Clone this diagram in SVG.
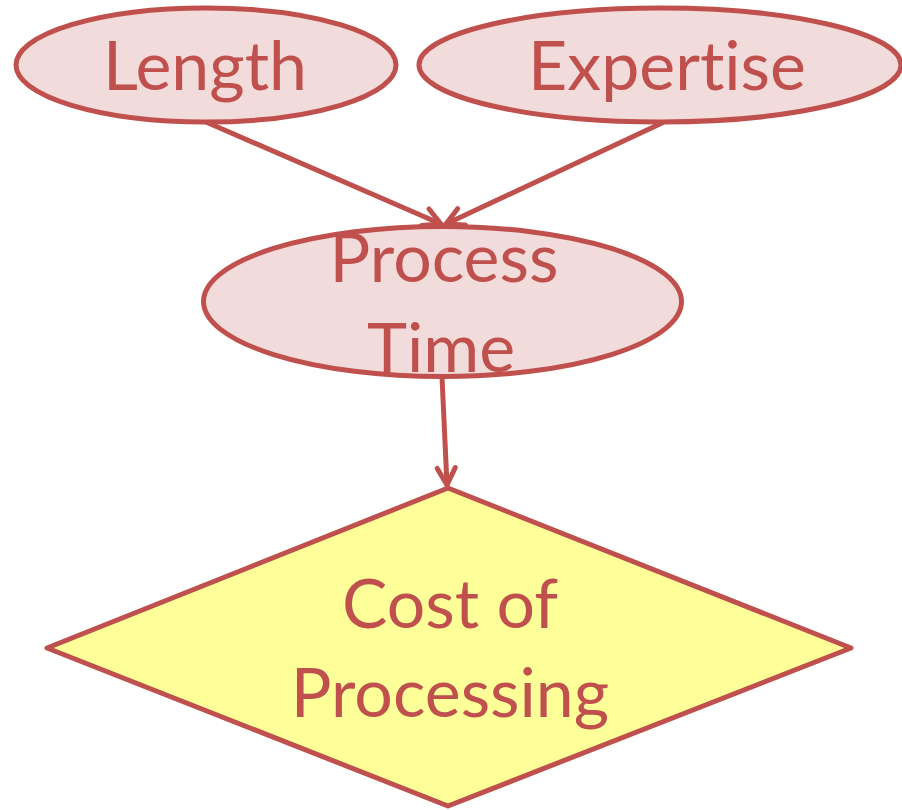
<svg xmlns="http://www.w3.org/2000/svg" width="902" height="810" viewBox="0 0 902 810">
  <style>
    .node { stroke: #C0504D; stroke-width: 5; }
    .oval { fill: #F2DCDB; }
    .decision { fill: #FFFF99; stroke-linejoin: round; }
    .label { font-family: Lato, "Open Sans", "Liberation Sans", sans-serif; font-size: 68px; fill: #C0504D; text-anchor: middle; font-variant-ligatures: none; font-feature-settings: "liga" 0; }
    .edge { stroke: #C0504D; stroke-width: 5; fill: none; stroke-linecap: round; }
  </style>
  <defs>
    <marker id="arrow" viewBox="0 0 24 24" refX="21" refY="12" markerWidth="24" markerHeight="24" markerUnits="userSpaceOnUse" orient="auto">
      <path d="M4,3 L21,12 L4,21" fill="none" stroke="#C0504D" stroke-width="5" stroke-linecap="round" stroke-linejoin="round"/>
    </marker>
  </defs>

  <g id="edges">
    <line class="edge" x1="206" y1="122" x2="441" y2="224" marker-end="url(#arrow)"/>
    <line class="edge" x1="662" y1="123" x2="446" y2="224" marker-end="url(#arrow)"/>
    <line class="edge" x1="442" y1="377" x2="447" y2="485" marker-end="url(#arrow)"/>
  </g>

  <g id="length">
    <ellipse class="node oval" cx="206" cy="65" rx="190" ry="57"/>
    <text class="label" x="205" y="90">Length</text>
  </g>

  <g id="expertise">
    <ellipse class="node oval" cx="660" cy="65" rx="241" ry="57"/>
    <text class="label" x="667" y="90">Expertise</text>
  </g>

  <g id="process-time">
    <ellipse class="node oval" cx="442.5" cy="301.5" rx="239" ry="75"/>
    <text class="label" x="444" y="282">Process</text>
    <text class="label" x="441" y="372">Time</text>
  </g>

  <g id="cost-of-processing">
    <polygon class="node decision" points="448,488 851,648 448,806 47,648"/>
    <text class="label" x="450" y="628">Cost of</text>
    <text class="label" x="450" y="717">Processing</text>
  </g>
</svg>
